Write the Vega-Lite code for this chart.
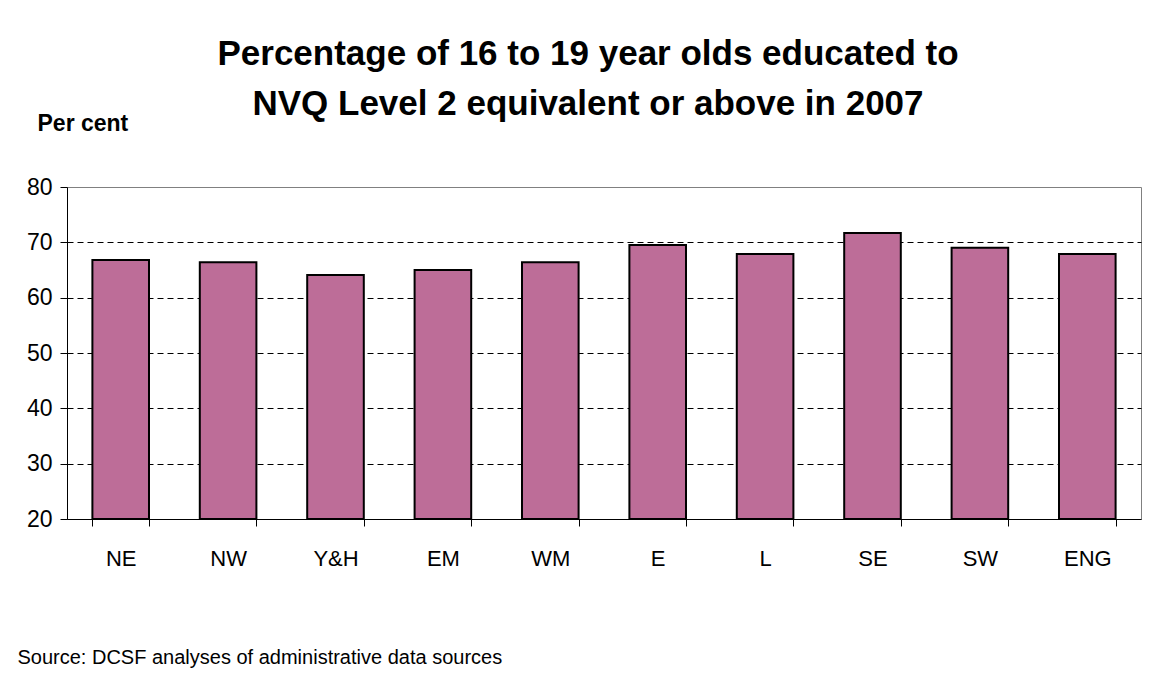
{
  "$schema": "https://vega.github.io/schema/vega-lite/v6.json",
  "autosize": {"type": "none"},
  "padding": {"left": 67, "top": 187, "right": 12, "bottom": 176},
  "width": 1074,
  "height": 332,
  "background": "white",
  "title": {
    "text": ["Percentage of 16 to 19 year olds educated to", "NVQ Level 2 equivalent or above in 2007"],
    "font": "Liberation Sans",
    "fontSize": 35,
    "fontWeight": "bold",
    "color": "black",
    "anchor": "middle",
    "frame": "group",
    "dx": -16,
    "baseline": "alphabetic",
    "lineHeight": 50,
    "offset": -38
  },
  "config": {
    "view": {"stroke": "#808080", "strokeWidth": 1},
    "font": "Liberation Sans"
  },
  "data": {
    "values": [
      {"region": "NE", "pct": 66.8},
      {"region": "NW", "pct": 66.4},
      {"region": "Y&H", "pct": 64.1},
      {"region": "EM", "pct": 65.0},
      {"region": "WM", "pct": 66.4},
      {"region": "E", "pct": 69.5},
      {"region": "L", "pct": 67.9},
      {"region": "SE", "pct": 71.7},
      {"region": "SW", "pct": 69.0},
      {"region": "ENG", "pct": 67.9}
    ]
  },
  "mark": {"type": "bar", "fill": "#bd6d98", "stroke": "black", "strokeWidth": 2},
  "encoding": {
    "x": {
      "field": "region",
      "type": "nominal",
      "sort": null,
      "scale": {"paddingInner": 0.473, "paddingOuter": 0.2365},
      "axis": {
        "title": "Source: DCSF analyses of administrative data sources",
        "titleFont": "Liberation Sans",
        "titleFontSize": 20,
        "titleFontWeight": "normal",
        "titleColor": "black",
        "titleAnchor": "start",
        "titleAlign": "left",
        "titleBaseline": "alphabetic",
        "titleX": -50,
        "titleY": 144,
        "labelAngle": 0,
        "labelFontSize": 22,
        "labelColor": "black",
        "labelPadding": 22,
        "tickBand": "extent",
        "tickSize": 7,
        "tickColor": "black",
        "domainColor": "black",
        "grid": false
      }
    },
    "y": {
      "field": "pct",
      "type": "quantitative",
      "scale": {"domain": [20, 80], "zero": false, "nice": false},
      "axis": {
        "title": "Per cent",
        "titleFont": "Liberation Sans",
        "titleFontSize": 23,
        "titleFontWeight": "bold",
        "titleColor": "black",
        "titleAngle": 0,
        "titleAlign": "left",
        "titleBaseline": "alphabetic",
        "titleX": -30,
        "titleY": -57,
        "values": [20, 30, 40, 50, 60, 70, 80],
        "labelFontSize": 23,
        "labelColor": "black",
        "labelPadding": 8,
        "tickSize": 7,
        "tickColor": "black",
        "domainColor": "black",
        "grid": true,
        "gridDash": [6, 4],
        "gridColor": {"condition": {"test": "datum.value === 20 || datum.value === 80", "value": "transparent"}, "value": "black"}
      }
    },
    "y2": {"datum": 20}
  }
}
